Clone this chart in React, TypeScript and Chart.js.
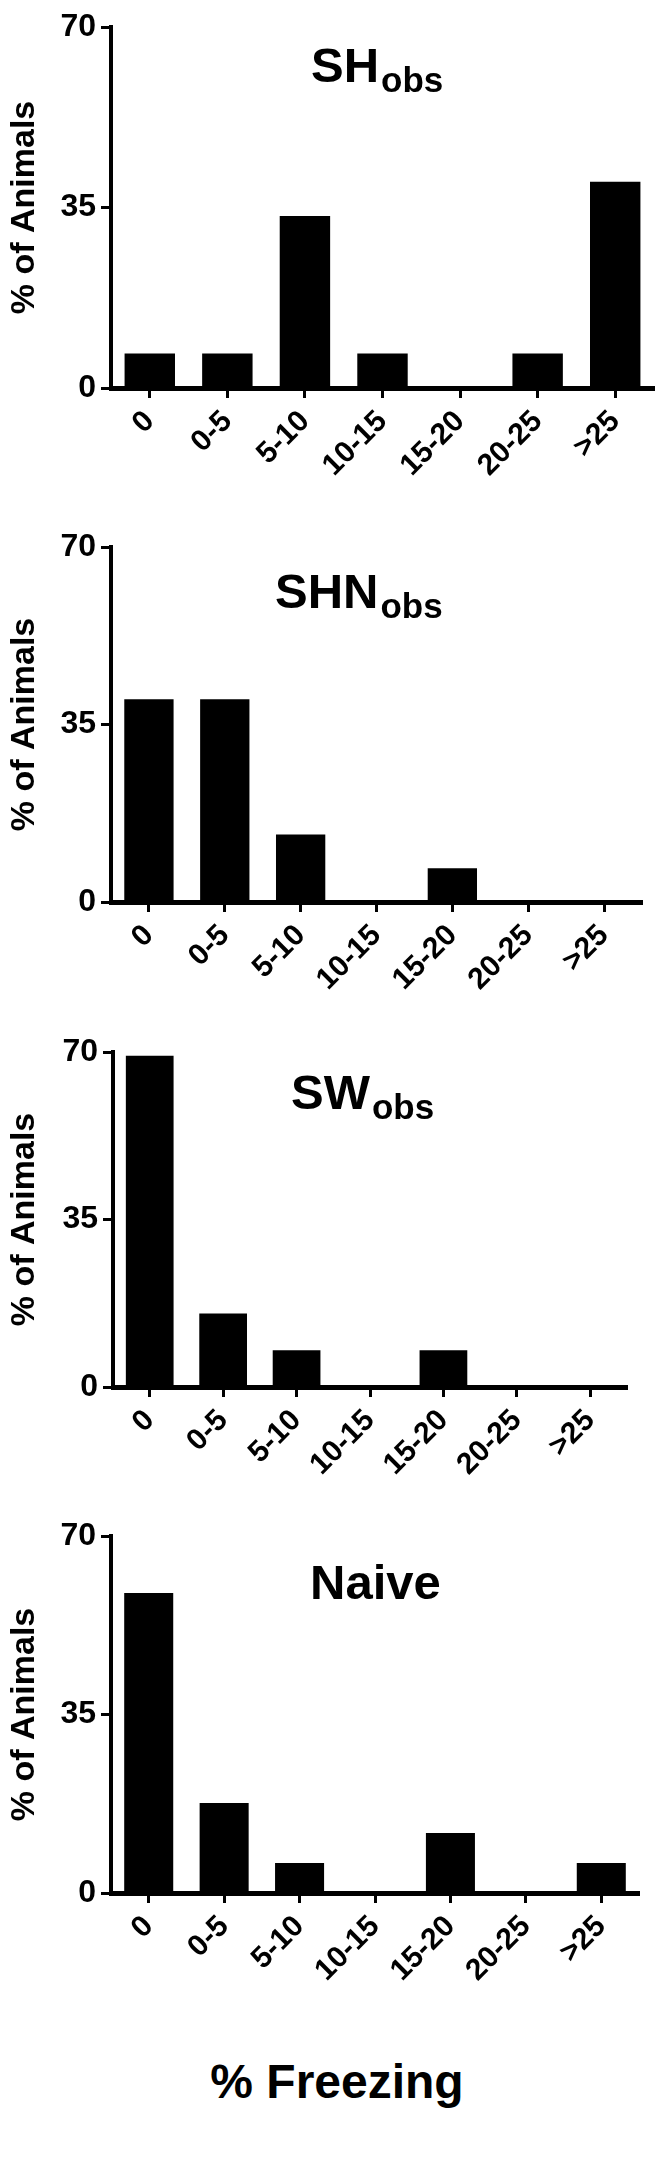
import React, { useEffect, useRef } from 'react';
import { Chart, registerables } from 'chart.js';

Chart.register(...registerables);

// ---------- data ----------
const categories = ['0', '0-5', '5-10', '10-15', '15-20', '20-25', '>25'];
const shObs = [6.67, 6.67, 33.33, 6.67, 0, 6.67, 40];
const shnObs = [40, 40, 13.33, 0, 6.67, 0, 0];
const swObs = [69.23, 15.38, 7.69, 0, 7.69, 0, 0];
const naive = [58.82, 17.65, 5.88, 0, 11.76, 0, 5.88];
const yTicks = [0, 35, 70];
const yMax = 70;
const titleMain = ['SH', 'SHN', 'SW', 'Naive'];
const titleSub = ['obs', 'obs', 'obs', ''];
const yTitle = '% of Animals';
const xTitle = '% Freezing';

// ---------- layout ----------
const FONT = "'Liberation Sans', Arial, Helvetica, sans-serif";
const PAD_TOP = 25;
const XH = 110;

type Layout = { top: number; bottom: number; axisX: number; right: number; titleLeft: number; titleTop: number };

const layouts: Layout[] = [
  { top: 27, bottom: 388, axisX: 111, right: 654, titleLeft: 311, titleTop: 41 },
  { top: 547, bottom: 902, axisX: 111, right: 642, titleLeft: 275, titleTop: 567 },
  { top: 1052, bottom: 1387, axisX: 113, right: 627, titleLeft: 291, titleTop: 1068 },
  { top: 1536, bottom: 1893, axisX: 111, right: 639, titleLeft: 310, titleTop: 1558 },
];

const seriesList = [shObs, shnObs, swObs, naive];

function Panel({ values, layout }: { values: number[]; layout: Layout }) {
  const ref = useRef<HTMLCanvasElement>(null);
  const plotH = layout.bottom - layout.top;
  const height = PAD_TOP + plotH + XH;

  useEffect(() => {
    const chart = new Chart(ref.current as HTMLCanvasElement, {
      type: 'bar',
      data: {
        labels: categories,
        datasets: [
          {
            data: values,
            backgroundColor: '#000',
            borderWidth: 0,
            categoryPercentage: 1,
            barPercentage: 0.65,
          },
        ],
      },
      options: {
        animation: false,
        responsive: false,
        devicePixelRatio: 1,
        layout: { padding: { top: PAD_TOP, right: 664 - layout.right, left: 0, bottom: 0 } },
        plugins: {
          legend: { display: false },
          tooltip: { enabled: false },
          title: { display: false },
        },
        scales: {
          x: {
            type: 'category',
            offset: true,
            grid: {
              display: true,
              offset: false,
              drawOnChartArea: false,
              drawTicks: true,
              tickLength: 10,
              tickWidth: 3,
              tickColor: '#000',
              color: '#000',
            },
            border: { display: true, color: '#000', width: 5 },
            ticks: {
              color: '#000',
              font: { family: FONT, size: 30, weight: 'bold' },
              maxRotation: 45,
              minRotation: 45,
              padding: 6,
              autoSkip: false,
            },
            afterFit: (s: any) => {
              s.height = XH;
            },
          } as any,
          y: {
            min: 0,
            max: yMax,
            afterBuildTicks: (s: any) => {
              s.ticks = yTicks.map((v) => ({ value: v }));
            },
            grid: {
              drawOnChartArea: false,
              drawTicks: true,
              tickLength: 10,
              tickWidth: 3,
              tickColor: '#000',
              color: '#000',
            },
            border: { display: true, color: '#000', width: 4 },
            ticks: {
              color: '#000',
              font: { family: FONT, size: 32, weight: 'bold' },
              padding: 5,
            },
            title: {
              display: true,
              text: yTitle,
              color: '#000',
              font: { family: FONT, size: 34, weight: 'bold' },
              padding: { top: 4, bottom: 0 },
            },
            afterFit: (s: any) => {
              s.width = layout.axisX;
            },
          } as any,
        },
      },
    });
    return () => chart.destroy();
  }, []);

  return (
    <canvas
      ref={ref}
      width={664}
      height={height}
      style={{ position: 'absolute', left: 0, top: layout.top - PAD_TOP, width: 664, height, display: 'block' }}
    />
  );
}

export default function App() {
  return (
    <div
      style={{
        position: 'absolute',
        left: 0,
        top: 0,
        width: 664,
        height: 2166,
        background: '#fff',
        overflow: 'hidden',
        fontFamily: FONT,
        color: '#000',
      }}
    >
      {layouts.map((l, i) => (
        <React.Fragment key={i}>
          <Panel values={seriesList[i]} layout={l} />
          <div
            style={{
              position: 'absolute',
              left: l.titleLeft,
              top: l.titleTop,
              fontSize: 49,
              fontWeight: 'bold',
              lineHeight: 1,
              whiteSpace: 'nowrap',
            }}
          >
            {titleMain[i]}
            {titleSub[i] ? (
              <span style={{ fontSize: 35, position: 'relative', top: 10, marginLeft: 2 }}>{titleSub[i]}</span>
            ) : null}
          </div>
        </React.Fragment>
      ))}
      <div
        style={{
          position: 'absolute',
          left: 0,
          top: 2058,
          width: 674,
          textAlign: 'center',
          fontSize: 48,
          fontWeight: 'bold',
          lineHeight: 1,
          whiteSpace: 'nowrap',
        }}
      >
        {xTitle}
      </div>
    </div>
  );
}
